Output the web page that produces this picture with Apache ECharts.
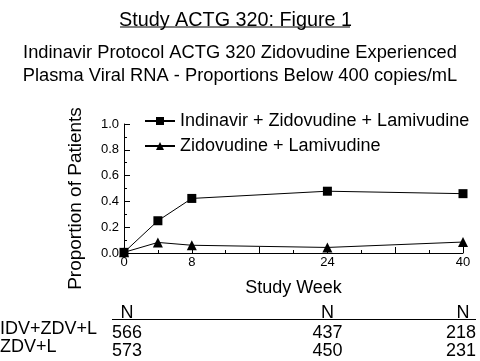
<!DOCTYPE html>
<html><head><meta charset="utf-8">
<script src="https://cdn.jsdelivr.net/npm/echarts@6/dist/echarts.min.js"></script>
<style>html,body{margin:0;padding:0;background:#fff}#c{width:480px;height:361px}</style>
</head><body><div id="c"></div>
<script>
var weeks = [0, 4, 8, 24, 40];
var idvZdvL = [0.005, 0.25, 0.423, 0.479, 0.46];
var zdvL = [0.005, 0.082, 0.06, 0.043, 0.085];
var xLabels = [0, 8, 24, 40];
var tableWeeks = [0, 24, 40];
var nIdv = [566, 437, 218];
var nZdv = [573, 450, 231];
var rowNames = ['IDV+ZDV+L', 'ZDV+L'];
var seriesNames = ['Indinavir + Zidovudine + Lamivudine', 'Zidovudine + Lamivudine'];

var F = 'Liberation Sans, Arial, Helvetica, sans-serif';
var chart = echarts.init(document.getElementById('c'));
function pairs(v){ return weeks.map(function(w,i){return [w, v[i]];}); }
chart.setOption({
  animation: false,
  title: [
    {text: 'Study ACTG 320: Figure 1', left: 114, top: 6, textStyle:{fontFamily:F, fontSize:19.8, fontWeight:'normal', color:'#000'}},
    {text: 'Indinavir Protocol ACTG 320 Zidovudine Experienced\nPlasma Viral RNA - Proportions Below 400 copies/mL', left: 'center', top: 36,
     padding:[5, 16, 5, 5],
     textStyle:{fontFamily:F, fontSize:18.3, fontWeight:'normal', color:'#000', lineHeight:23}}
  ],
  grid: {left: 124, right: 17, top: 124, bottom: 108},
  legend: {orient:'vertical', left: 139, top: 107, itemWidth: 30, itemHeight: 10, itemGap: 7,
    textStyle:{fontFamily:F, fontSize:18, color:'#000'}, data: seriesNames},
  xAxis: {type:'value', min:0, max:40, interval:8,
    name:'Study Week', nameLocation:'middle', nameGap:26, nameTextStyle:{fontFamily:F, fontSize:18, color:'#000'},
    axisLine:{lineStyle:{color:'#000', width:1}},
    axisTick:{inside:true, length:6, lineStyle:{color:'#000'}},
    minorTick:{show:true, splitNumber:2, length:3, lineStyle:{color:'#000'}},
    splitLine:{show:false},
    axisLabel:{fontFamily:F, fontSize:13, color:'#000', margin:3,
      formatter:function(v){ return xLabels.indexOf(v) >= 0 ? String(v) : ''; }}
  },
  yAxis: {type:'value', min:0, max:1, interval:0.2,
    name:'Proportion of Patients', nameLocation:'middle', nameGap:39,
    nameTextStyle:{fontFamily:F, fontSize:19, color:'#000', padding:[0, 20, 0, 0]},
    axisLine:{show:true, lineStyle:{color:'#000', width:1}},
    axisTick:{show:true, inside:true, length:6, lineStyle:{color:'#000'}},
    minorTick:{show:true, splitNumber:2, length:3, lineStyle:{color:'#000'}},
    splitLine:{show:false},
    axisLabel:{fontFamily:F, fontSize:13, color:'#000', margin:5, formatter:function(v){return v.toFixed(1);}}
  },
  series: [
    {name: seriesNames[0], type:'line', data: pairs(idvZdvL), symbol:'rect', symbolSize:9,
     lineStyle:{color:'#000', width:1}, itemStyle:{color:'#000'}, color:'#000'},
    {name: seriesNames[1], type:'line', data: pairs(zdvL), symbol:'triangle', symbolSize:10,
     lineStyle:{color:'#000', width:1}, itemStyle:{color:'#000'}, color:'#000'}
  ]
});

// N table below the chart, positioned through the x axis scale
var g = [];
g.push({type:'line', shape:{x1:120, y1:27, x2:350, y2:27}, style:{stroke:'#000', lineWidth:1}});
var aligns = ['left', 'center', 'right'];
var xs = tableWeeks.map(function(w){ return chart.convertToPixel({xAxisIndex:0}, w); });
var lx1 = xs[0] - 12, lx2 = xs[2] + 13;
g.push({type:'line', shape:{x1:lx1, y1:319.5, x2:lx2, y2:319.5}, style:{stroke:'#000', lineWidth:1}});
var TF = '18px ' + F;
xs.forEach(function(x, i){
  var tx = aligns[i] === 'left' ? lx1 : (aligns[i] === 'right' ? lx2 : x);
  g.push({type:'text', x: x + (i === 0 ? 3 : 0), y: 313, style:{text:'N', font:TF, fill:'#000', textAlign:'center', textVerticalAlign:'middle'}});
  g.push({type:'text', x: tx, y: 333, style:{text:String(nIdv[i]), font:TF, fill:'#000', textAlign:aligns[i], textVerticalAlign:'middle'}});
  g.push({type:'text', x: tx, y: 351, style:{text:String(nZdv[i]), font:TF, fill:'#000', textAlign:aligns[i], textVerticalAlign:'middle'}});
});
g.push({type:'text', x: 0, y: 329, style:{text:rowNames[0], font:TF, fill:'#000', textAlign:'left', textVerticalAlign:'middle'}});
g.push({type:'text', x: 0, y: 347, style:{text:rowNames[1], font:TF, fill:'#000', textAlign:'left', textVerticalAlign:'middle'}});
chart.setOption({graphic: g});
</script></body></html>
